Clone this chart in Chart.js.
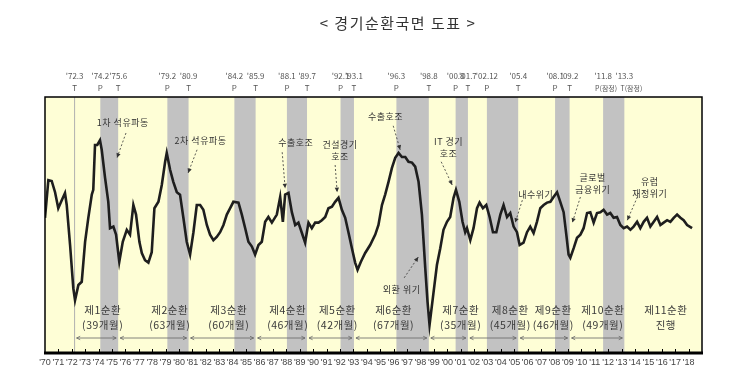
<!DOCTYPE html>
<html><head><meta charset="utf-8">
<script src="https://cdn.jsdelivr.net/npm/chart.js@4"></script>
<style>html,body{margin:0;padding:0;background:#fff}canvas{display:block}</style>
</head><body>
<canvas id="c" width="750" height="381"></canvas>
<script>
// ---- data ----
const years = [1970.00,1970.25,1970.50,1970.75,1970.99,1971.25,1971.49,1971.62,1971.87,1972.11,1972.24,1972.49,1972.74,1972.99,1973.23,1973.49,1973.60,1973.73,1973.90,1974.10,1974.23,1974.48,1974.72,1974.85,1975.10,1975.30,1975.54,1975.80,1976.10,1976.34,1976.59,1976.79,1977.04,1977.22,1977.46,1977.71,1977.96,1978.16,1978.46,1978.71,1978.96,1979.08,1979.33,1979.57,1979.83,1980.07,1980.32,1980.57,1980.82,1981.07,1981.32,1981.57,1981.81,1982.07,1982.31,1982.56,1982.81,1983.06,1983.31,1983.56,1983.81,1984.05,1984.43,1984.68,1984.93,1985.17,1985.43,1985.67,1985.92,1986.17,1986.42,1986.66,1986.92,1987.29,1987.54,1987.74,1987.91,1988.16,1988.41,1988.66,1988.90,1989.16,1989.40,1989.65,1989.90,1990.15,1990.40,1990.65,1990.90,1991.14,1991.40,1991.64,1991.89,1992.14,1992.39,1992.63,1992.89,1993.13,1993.31,1993.56,1993.88,1994.25,1994.63,1994.87,1995.13,1995.37,1995.62,1995.87,1996.12,1996.37,1996.62,1996.87,1997.11,1997.37,1997.61,1997.86,1998.11,1998.36,1998.53,1998.68,1998.98,1999.23,1999.48,1999.72,1999.98,2000.22,2000.47,2000.65,2000.90,2001.14,2001.34,2001.47,2001.72,2001.96,2002.22,2002.41,2002.66,2002.91,2003.16,2003.41,2003.66,2003.96,2004.20,2004.46,2004.70,2004.95,2005.20,2005.40,2005.69,2005.95,2006.19,2006.44,2006.69,2006.94,2007.19,2007.44,2007.69,2007.93,2008.19,2008.43,2008.68,2008.88,2009.05,2009.18,2009.43,2009.68,2009.93,2010.17,2010.43,2010.67,2010.92,2011.17,2011.42,2011.66,2011.92,2012.16,2012.41,2012.66,2012.91,2013.16,2013.41,2013.66,2013.90,2014.16,2014.40,2014.65,2014.90,2015.15,2015.40,2015.65,2015.90,2016.14,2016.40,2016.64,2016.89,2017.14,2017.39,2017.63,2017.89,2018.26];
const cycleValues = [100.9,105.6,105.5,104.1,102.1,103.1,104.0,102.5,97.5,92.1,90.6,92.5,92.9,97.9,100.9,103.8,104.4,110.0,110.0,110.6,109.4,105.9,102.9,99.6,99.8,98.8,95.4,97.9,99.4,98.8,102.5,101.3,97.9,96.5,95.6,95.3,96.6,102.1,102.9,105.0,107.9,109.0,106.9,105.4,104.1,103.8,100.9,97.9,96.3,99.1,102.5,102.5,101.9,100.0,98.8,98.1,98.5,99.1,100.0,101.3,102.1,102.9,102.8,101.3,99.6,97.9,97.3,96.3,97.5,97.9,100.4,101.0,100.3,101.3,103.5,100.4,103.8,104.0,101.6,100.0,100.3,99.0,97.8,100.3,99.6,100.3,100.3,100.6,101.0,102.1,102.3,102.9,103.4,101.9,100.9,99.1,97.1,95.3,94.4,95.4,96.5,97.5,98.8,100.0,102.5,103.8,105.4,107.1,108.4,109.0,108.5,108.5,107.9,107.8,107.3,105.4,101.3,94.6,90.4,87.5,91.6,95.0,97.1,99.4,100.4,101.0,103.4,104.4,102.9,100.4,99.1,99.6,98.1,99.6,102.1,102.8,102.1,102.5,101.0,99.1,99.1,101.3,102.5,101.0,101.5,99.8,99.1,97.5,97.8,99.1,99.8,99.0,100.4,102.1,102.5,102.8,102.9,103.5,104.1,102.9,101.6,98.8,96.3,95.9,97.1,98.4,98.8,99.6,101.5,101.6,100.3,101.5,101.6,101.9,101.3,101.5,100.9,101.0,100.0,99.6,99.8,99.4,99.8,100.4,99.6,100.4,100.9,99.8,100.4,101.0,100.0,100.3,100.6,100.4,100.9,101.3,100.9,100.6,100.0,99.6];

const tickLabels = ["'70","'71","'72","'73","'74","'75","'76","'77","'78","'79","'80","'81","'82","'83","'84","'85","'86","'87","'88","'89","'90","'91","'92","'93","'94","'95","'96","'97","'98","'99","'00","'01","'02","'03","'04","'05","'06","'07","'08","'09","'10","'11","'12","'13","'14","'15","'16","'17","'18"];

const turnLabels = ["'72.3","'74.2","'75.6","'79.2","'80.9","'84.2","'85.9","'88.1","'89.7","'92.1","'93.1","'96.3","'98.8","'00.8","'01.7","'02.12","'05.4","'08.1","'09.2","'11.8","'13.3"];
const turnTypes  = ["T","P","T","P","T","P","T","P","T","P","T","P","T","P","T","P","T","P","T","P(잠정)","T(잠정)"];
const turnDates  = [1972.208,1974.125,1975.458,1979.125,1980.708,1984.125,1985.708,1988.042,1989.542,1992.042,1993.042,1996.208,1998.625,2000.625,2001.542,2002.958,2005.292,2008.042,2009.125,2011.625,2013.208];

const cycleNames   = ["제1순환","제2순환","제3순환","제4순환","제5순환","제6순환","제7순환","제8순환","제9순환","제10순환","제11순환"];
const cycleMonths  = ["(39개월)","(63개월)","(60개월)","(46개월)","(42개월)","(67개월)","(35개월)","(45개월)","(46개월)","(49개월)","진행"];

const eventTexts = [["1차 석유파동"],["2차 석유파동"],["수출호조"],["건설경기","호조"],["수출호조"],["외환 위기"],["IT 경기","호조"],["내수위기"],["글로벌","금융위기"],["유럽","재정위기"]];

// ---- layout of labels (positions in axis units) ----
const cycleLabelX = [1974.3,1979.3,1983.7,1988.1,1991.8,1996.0,2001.0,2004.7,2007.9,2011.6,2016.3];
const eventLayout = [
  {x:1975.8,y:112.75,from:[1976.04,111.5],to:[1975.37,108.4]},
  {x:1981.6,y:110.6,from:[1981.34,109.4],to:[1980.67,106.5]},
  {x:1988.7,y:110.25,from:[1987.69,109.1],to:[1987.91,104.6]},
  {x:1992.0,y:110.0,from:[1991.64,107.5],to:[1991.79,104.1]},
  {x:1995.4,y:113.5,from:[1995.97,112.4],to:[1996.49,109.4]},
  {x:1996.6,y:91.9,from:[1996.79,93.4],to:[1997.84,96.0]},
  {x:2000.1,y:110.4,from:[1999.55,107.9],to:[2000.37,105.0]},
  {x:2006.6,y:103.75,from:[2005.60,103.1],to:[2005.07,100.3]},
  {x:2010.85,y:105.9,from:[2009.93,103.5],to:[2009.33,100.3]},
  {x:2015.1,y:105.4,from:[2014.18,103.5],to:[2013.43,100.6]}
];

const KR = '"Noto Sans CJK KR", "Noto Sans", sans-serif';

function arrowHead(ctx, x0, y0, x1, y1, len, open){
  const ang = Math.atan2(y1-y0, x1-x0);
  ctx.beginPath();
  ctx.moveTo(x1 - len*Math.cos(ang-0.45), y1 - len*Math.sin(ang-0.45));
  ctx.lineTo(x1, y1);
  ctx.lineTo(x1 - len*Math.cos(ang+0.45), y1 - len*Math.sin(ang+0.45));
  if (open) { ctx.stroke(); } else { ctx.closePath(); ctx.fill(); }
}

const decor = {
  id: 'decor',
  beforeDraw(chart){
    const {ctx, chartArea:a, scales:{x}} = chart;
    ctx.save();
    ctx.fillStyle = '#ffffff';
    ctx.fillRect(0,0,chart.width,chart.height);
    ctx.fillStyle = '#FEFED6';
    ctx.fillRect(a.left,a.top,a.right-a.left,a.bottom-a.top);
    // recession bands (peak -> trough)
    ctx.fillStyle = '#C2C2C2';
    for (let i=0;i<turnDates.length-1;i++){
      if (turnTypes[i].startsWith('P')){
        const x0 = x.getPixelForValue(turnDates[i]);
        const x1 = x.getPixelForValue(turnDates[i+1]);
        ctx.fillRect(x0,a.top,x1-x0,a.bottom-a.top);
      }
    }
    // first trough reference line
    const xt = x.getPixelForValue(turnDates[0]);
    ctx.strokeStyle = '#B0B0B0'; ctx.lineWidth = 1;
    ctx.beginPath(); ctx.moveTo(xt,a.top); ctx.lineTo(xt,a.bottom); ctx.stroke();
    ctx.restore();
  },
  afterDatasetsDraw(chart){
    const {ctx, chartArea:a, scales:{x,y}} = chart;
    ctx.save();
    // title
    ctx.fillStyle = '#333';
    ctx.font = '15px ' + KR;
    ctx.textAlign = 'center'; ctx.textBaseline = 'middle';
    ctx.letterSpacing = '1.5px';
    ctx.fillText('< 경기순환국면 도표 >', 398, 23);
    ctx.letterSpacing = '0px';
    // turning point labels above chart
    ctx.fillStyle = '#555';
    turnDates.forEach((d,i)=>{
      const px = x.getPixelForValue(d);
      ctx.font = '8px ' + KR;
      ctx.fillText(turnLabels[i], px, a.top-21);
      const t = turnTypes[i];
      if (t.length>1){ ctx.font = '7px ' + KR; ctx.fillText(t, px + (t[0]==='P'?3:7), a.top-9); }
      else ctx.fillText(t, px, a.top-9);
    });
    // event annotations
    ctx.fillStyle = '#333'; ctx.strokeStyle = '#333';
    ctx.font = '9px ' + KR;
    ctx.letterSpacing = '0.5px';
    eventTexts.forEach((lines,i)=>{
      const L = eventLayout[i];
      const px = x.getPixelForValue(L.x), py = y.getPixelForValue(L.y);
      lines.forEach((s,j)=> ctx.fillText(s, px, py + j*12));
      const fx = x.getPixelForValue(L.from[0]), fy = y.getPixelForValue(L.from[1]);
      const tx = x.getPixelForValue(L.to[0]), ty = y.getPixelForValue(L.to[1]);
      ctx.lineWidth = 0.8; ctx.setLineDash([2,2]);
      ctx.beginPath(); ctx.moveTo(fx,fy); ctx.lineTo(tx,ty); ctx.stroke();
      ctx.setLineDash([]);
      arrowHead(ctx, fx, fy, tx, ty, 5, false);
    });
    // cycle labels
    ctx.font = '10.5px ' + KR;
    ctx.fillStyle = '#3a3a3a';
    cycleNames.forEach((n,i)=>{
      const px = x.getPixelForValue(cycleLabelX[i]);
      ctx.fillText(n, px, a.bottom-43);
      ctx.fillText(cycleMonths[i], px, a.bottom-28);
    });
    ctx.letterSpacing = '0px';
    // trough-to-trough double arrows
    ctx.strokeStyle = '#666'; ctx.lineWidth = 0.8;
    const ya = a.bottom - 15;
    const troughs = turnDates.filter((d,i)=>turnTypes[i].startsWith('T'));
    for (let i=0;i<troughs.length-1;i++){
      const x0 = x.getPixelForValue(troughs[i])+2, x1 = x.getPixelForValue(troughs[i+1])-2;
      ctx.beginPath(); ctx.moveTo(x0,ya); ctx.lineTo(x1,ya); ctx.stroke();
      arrowHead(ctx, x1, ya, x0, ya, 4, true);
      arrowHead(ctx, x0, ya, x1, ya, 4, true);
    }
    // ticks on bottom axis
    ctx.strokeStyle = '#000'; ctx.lineWidth = 1;
    for (let yr=1971; yr<=2018; yr++){
      const px = Math.round(x.getPixelForValue(yr))+0.5;
      ctx.beginPath(); ctx.moveTo(px,a.bottom); ctx.lineTo(px,a.bottom-4); ctx.stroke();
    }
    // border
    ctx.lineWidth = 1.5;
    ctx.strokeRect(a.left,a.top,a.right-a.left,a.bottom-a.top);
    ctx.lineWidth = 3;
    ctx.beginPath(); ctx.moveTo(a.left-1,a.bottom); ctx.lineTo(a.right+1,a.bottom); ctx.stroke();
    ctx.restore();
  }
};

new Chart(document.getElementById('c'), {
  type: 'line',
  data: {
    datasets: [{
      data: years.map((yr,i)=>({x:yr, y:cycleValues[i]})),
      borderColor: '#1E1E1E',
      borderWidth: 2.6,
      pointRadius: 0,
      tension: 0,
      fill: false
    }]
  },
  options: {
    responsive: false,
    animation: false,
    devicePixelRatio: 1,
    layout: { padding: { left: 45, right: 48, top: 97, bottom: 0 } },
    plugins: { legend: {display:false}, tooltip: {enabled:false}, title: {display:false} },
    scales: {
      x: {
        type: 'linear', min: 1970, max: 2019,
        grid: { display: false, drawTicks: false, tickLength: 0 }, border: { display: false },
        afterFit(s){ s.height = 28; },
        ticks: {
          stepSize: 1, autoSkip: false, maxRotation: 0, padding: 4,
          color: '#444', font: { size: 9, family: '"Liberation Sans", Arial, sans-serif' },
          callback: (v)=> { const k = Math.round(v) - 1970; return tickLabels[k] !== undefined ? tickLabels[k] : ''; }
        }
      },
      y: { display: false, min: 84, max: 116 }
    }
  },
  plugins: [decor]
});
</script>
</body></html>
